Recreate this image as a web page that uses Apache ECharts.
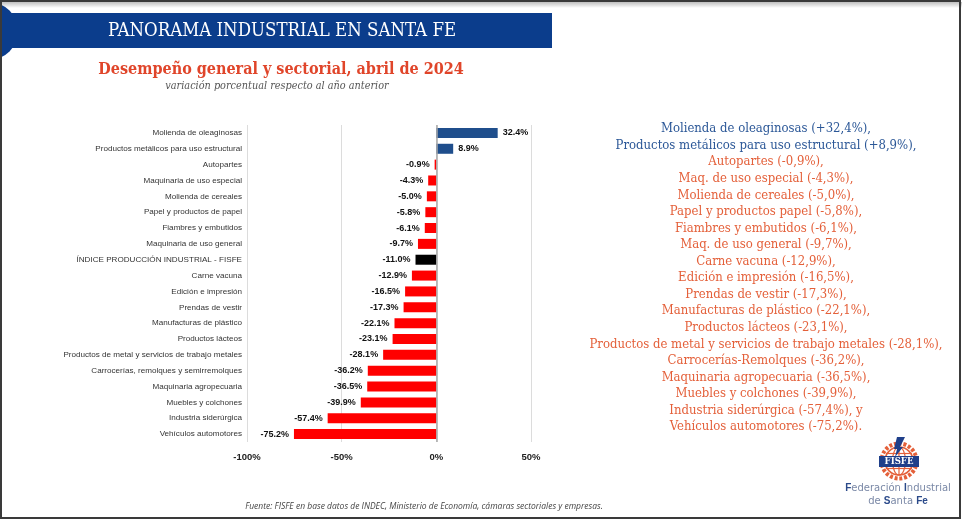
<!DOCTYPE html>
<html>
<head>
    <meta charset="utf-8">
    <title>Panorama industrial en Santa Fe</title>
    <script src="https://cdn.jsdelivr.net/npm/echarts@6/dist/echarts.min.js"></script>
    <style>
        html, body { margin: 0; padding: 0; background: #fff; }
        #main { width: 962px; height: 520px; }
    </style>
</head>
<body>
    <div id="main"></div>
    <script type="text/javascript">
        // sectores, de arriba hacia abajo
        var categories = [
            'Molienda de oleaginosas',
            'Productos metálicos para uso estructural',
            'Autopartes',
            'Maquinaria de uso especial',
            'Molienda de cereales',
            'Papel y productos de papel',
            'Fiambres y embutidos',
            'Maquinaria de uso general',
            'ÍNDICE PRODUCCIÓN INDUSTRIAL - FISFE',
            'Carne vacuna',
            'Edición e impresión',
            'Prendas de vestir',
            'Manufacturas de plástico',
            'Productos lácteos',
            'Productos de metal y servicios de trabajo metales',
            'Carrocerías, remolques y semirremolques',
            'Maquinaria agropecuaria',
            'Muebles y colchones',
            'Industria siderúrgica',
            'Vehículos automotores'
        ];
        var values = [32.4, 8.9, -0.9, -4.3, -5.0, -5.8, -6.1, -9.7, -11.0, -12.9,
            -16.5, -17.3, -22.1, -23.1, -28.1, -36.2, -36.5, -39.9, -57.4, -75.2];
        var xTicks = [-100, -50, 0, 50];

        // texto de la derecha
        var resumen = [
            'Molienda de oleaginosas (+32,4%),',
            'Productos metálicos para uso estructural (+8,9%),',
            'Autopartes (-0,9%),',
            'Maq. de uso especial (-4,3%),',
            'Molienda de cereales (-5,0%),',
            'Papel y productos papel (-5,8%),',
            'Fiambres y embutidos (-6,1%),',
            'Maq. de uso general (-9,7%),',
            'Carne vacuna (-12,9%),',
            'Edición e impresión (-16,5%),',
            'Prendas de vestir (-17,3%),',
            'Manufacturas de plástico (-22,1%),',
            'Productos lácteos (-23,1%),',
            'Productos de metal y servicios de trabajo metales (-28,1%),',
            'Carrocerías-Remolques (-36,2%),',
            'Maquinaria agropecuaria (-36,5%),',
            'Muebles y colchones (-39,9%),',
            'Industria siderúrgica (-57,4%), y',
            'Vehículos automotores (-75,2%).'
        ];

        var BLUE = '#1f4e8c', RED = '#ff0000', NAVY = '#0b3d8c', ORANGE = '#e4603a';
        var sans = '"Liberation Sans", Arial, sans-serif';
        var serif = '"DejaVu Serif Condensed", "DejaVu Serif", serif';

        var barData = values.map(function (v, i) {
            var color = v >= 0 ? BLUE : RED;
            if (categories[i].indexOf('ÍNDICE') === 0) color = '#000';
            return {
                value: v,
                itemStyle: { color: color },
                label: { position: v >= 0 ? 'right' : 'left' }
            };
        });

        // lineas de texto a la derecha
        var textLines = resumen.map(function (t, i) {
            return {
                type: 'text',
                x: 766,
                y: 129 + i * 16.55,
                style: {
                    text: t,
                    align: 'center',
                    verticalAlign: 'middle',
                    font: '13px ' + serif,
                    fill: t.indexOf('(+') >= 0 ? '#2b5797' : ORANGE
                }
            };
        });

        // logo FISFE
        var lx = 899, ly = 461;
        var logo = [
            { type: 'circle', shape: { cx: lx, cy: ly, r: 17.5 },
              style: { fill: 'none', stroke: ORANGE, lineWidth: 4, lineDash: [3, 1.8] } },
            { type: 'circle', shape: { cx: lx, cy: ly, r: 14 },
              style: { fill: 'none', stroke: ORANGE, lineWidth: 1.6 } },
            { type: 'ellipse', shape: { cx: lx, cy: ly, rx: 6.5, ry: 14 },
              style: { fill: 'none', stroke: ORANGE, lineWidth: 1.2 } },
            { type: 'line', shape: { x1: lx, y1: ly - 14, x2: lx, y2: ly + 14 },
              style: { stroke: ORANGE, lineWidth: 1.2 } },
            { type: 'line', shape: { x1: lx - 13, y1: ly - 7.5, x2: lx + 13, y2: ly - 7.5 },
              style: { stroke: ORANGE, lineWidth: 1.2 } },
            { type: 'line', shape: { x1: lx - 13, y1: ly + 7.5, x2: lx + 13, y2: ly + 7.5 },
              style: { stroke: ORANGE, lineWidth: 1.2 } },
            { type: 'polygon', z: 10, shape: { points: [[lx - 2, ly - 24], [lx + 6, ly - 24], [lx + 1, ly - 14],
                [lx + 4, ly - 14], [lx - 4, ly - 4], [lx - 2, ly - 12], [lx - 5, ly - 12]] },
              style: { fill: '#1f3f8a' } },
            { type: 'rect', z: 10, shape: { x: lx - 20, y: ly - 5, width: 40, height: 11 }, style: { fill: '#1f3f8a' } },
            { type: 'text', z: 11, x: lx, y: ly + 0.5, style: {
                text: 'FISFE', align: 'center', verticalAlign: 'middle',
                font: 'bold 9.5px ' + serif, fill: '#fff' } },
            { type: 'text', x: lx - 1, y: ly + 27, style: {
                text: '{b|F}ederación {b|I}ndustrial', align: 'center', verticalAlign: 'middle',
                font: '10px "DejaVu Sans", sans-serif', fill: '#7a88a6',
                rich: { b: { fontSize: 10, fontWeight: 'bold', fill: '#2b4a8a' } } } },
            { type: 'text', x: lx - 1, y: ly + 40, style: {
                text: 'de {b|S}anta {b|Fe}', align: 'center', verticalAlign: 'middle',
                font: '10px "DejaVu Sans", sans-serif', fill: '#7a88a6',
                rich: { b: { fontSize: 10, fontWeight: 'bold', fill: '#2b4a8a' } } } }
        ];

        var myChart = echarts.init(document.getElementById('main'));
        var option = {
            backgroundColor: '#fff',
            animation: false,
            grid: { left: 247, right: 431, top: 125, bottom: 78 },
            xAxis: {
                type: 'value',
                min: xTicks[0],
                max: xTicks[xTicks.length - 1],
                interval: 50,
                axisLine: { show: false },
                axisTick: { show: false },
                splitLine: { lineStyle: { color: '#dcdcdc' } },
                axisLabel: {
                    formatter: '{value}%',
                    fontFamily: sans,
                    fontWeight: 'bold',
                    fontSize: 9.5,
                    color: '#222',
                    margin: 10
                }
            },
            yAxis: {
                type: 'category',
                inverse: true,
                data: categories,
                axisLine: { show: false },
                axisTick: { show: false },
                axisLabel: {
                    fontFamily: sans,
                    fontSize: 8.1,
                    color: '#333',
                    margin: 5
                }
            },
            series: [{
                type: 'bar',
                data: barData,
                barWidth: 10,
                label: {
                    show: true,
                    distance: 5,
                    fontFamily: sans,
                    fontWeight: 'bold',
                    fontSize: 9,
                    color: '#111',
                    formatter: function (p) { return p.value.toFixed(1) + '%'; }
                },
                markLine: {
                    silent: true,
                    symbol: 'none',
                    label: { show: false },
                    lineStyle: { color: '#a8a8a8', type: 'solid', width: 1.5 },
                    data: [{ xAxis: 0 }]
                }
            }],
            graphic: [
                // marco
                { type: 'rect', shape: { x: 1, y: 1, width: 959, height: 517 },
                  style: { fill: 'none', stroke: '#3a3a3a', lineWidth: 2 }, z: 100 },
                { type: 'rect', shape: { x: 0, y: 2, width: 962, height: 6 },
                  style: { fill: new echarts.graphic.LinearGradient(0, 0, 0, 1, [
                      { offset: 0, color: 'rgba(0,0,0,0.25)' }, { offset: 1, color: 'rgba(0,0,0,0)' }]) }, z: 99 },
                // banda del titulo
                { type: 'circle', shape: { cx: -11, cy: 31, r: 29 }, style: { fill: NAVY } },
                { type: 'rect', shape: { x: 0, y: 13, width: 552, height: 35 }, style: { fill: NAVY } },
                { type: 'text', x: 282, y: 31, style: {
                    text: 'PANORAMA INDUSTRIAL EN SANTA FE', align: 'center', verticalAlign: 'middle',
                    font: '18.5px ' + serif, fill: '#fff' } },
                { type: 'text', x: 281, y: 70, style: {
                    text: 'Desempeño general y sectorial, abril de 2024', align: 'center', verticalAlign: 'middle',
                    font: 'bold 16px ' + serif, fill: '#e0452a' } },
                { type: 'text', x: 277, y: 86, style: {
                    text: 'variación porcentual respecto al año anterior', align: 'center', verticalAlign: 'middle',
                    font: 'italic 10.8px ' + serif, fill: '#555' } },
                // fuente
                { type: 'text', x: 424, y: 507, style: {
                    text: 'Fuente: FISFE en base datos de INDEC, Ministerio de Economía, cámaras sectoriales y empresas.',
                    align: 'center', verticalAlign: 'middle',
                    font: 'italic 8.5px "Open Sans", sans-serif', fill: '#444' } }
            ].concat(logo, textLines)
        };
        myChart.setOption(option);
    </script>
</body>
</html>
